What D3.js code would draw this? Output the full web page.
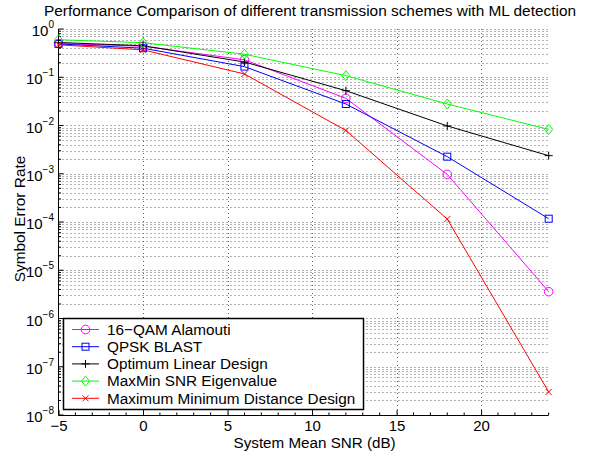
<!DOCTYPE html>
<html><head><meta charset="utf-8">
<script src="https://cdn.jsdelivr.net/npm/d3@7"></script>
<style>body{margin:0;background:#fff}svg{display:block}text{font-family:"Liberation Sans",Arial,Helvetica,sans-serif;fill:#000}</style>
</head><body><svg id="c" width="591" height="455"></svg>
<script>
const snr = [-5, 0, 6, 12, 18, 24];
const seriesNames = ["16−QAM Alamouti", "QPSK BLAST", "Optimum Linear Design", "MaxMin SNR Eigenvalue", "Maximum Minimum Distance Design"];
const alamouti = [0.50, 0.44, 0.23, 0.0366, 0.00097, 3.6e-6];
const blast = [0.49, 0.40, 0.166, 0.0279, 0.00226, 1.17e-4];
const optLinear = [0.525, 0.45, 0.207, 0.0527, 0.0098, 0.00237];
const maxMinSnr = [0.60, 0.52, 0.30, 0.108, 0.0279, 0.0083];
const maxMinDist = [0.47, 0.37, 0.117, 0.0079, 1.15e-4, 3.0e-8];
const colors = ["#ff00ff", "#0000ff", "#000000", "#00ff00", "#ff0000"];
const markers = ["circle", "square", "plus", "diamond", "cross"];
const xTicks = [-5, 0, 5, 10, 15, 20];
const yExponents = [0, -1, -2, -3, -4, -5, -6, -7, -8];
const titleText = "Performance Comparison of different transmission schemes with ML detection";
const xLabel = "System Mean SNR (dB)";
const yLabel = "Symbol Error Rate";

const allSeries = [alamouti, blast, optLinear, maxMinSnr, maxMinDist];
const svg = d3.select("#c");
const L = 58.5, R = 548.7, T = 29, B = 415;
const x = d3.scaleLinear().domain([-5, 24]).range([L, R]);
const y = d3.scaleLog().domain([1e-8, 1]).range([B, T]);

// grid
const g = svg.append("g");
const minorVals = [];
for (let e = -8; e < 0; e++) for (let m = 2; m <= 9; m++) minorVals.push(m * Math.pow(10, e));
g.selectAll(".hmin").data(minorVals).enter().append("line")
  .attr("x1", L).attr("x2", R).attr("y1", d => Math.round(y(d)) + 0.5).attr("y2", d => Math.round(y(d)) + 0.5)
  .attr("stroke", "#666").attr("stroke-width", 1).attr("stroke-dasharray", "1,3");
g.selectAll(".hmaj").data(yExponents.slice(0, -1)).enter().append("line")
  .attr("x1", L).attr("x2", R).attr("y1", d => Math.round(y(Math.pow(10, d))) + 0.5).attr("y2", d => Math.round(y(Math.pow(10, d))) + 0.5)
  .attr("stroke", "#666").attr("stroke-width", 1).attr("stroke-dasharray", "1,3");
g.selectAll(".vmaj").data(xTicks.slice(1)).enter().append("line")
  .attr("x1", d => Math.round(x(d)) + 0.5).attr("x2", d => Math.round(x(d)) + 0.5).attr("y1", T).attr("y2", B)
  .attr("stroke", "#666").attr("stroke-width", 1).attr("stroke-dasharray", "1,3");

// x axis
const xAxis = d3.axisBottom(x).tickValues(xTicks).tickSize(-5).tickPadding(0).tickFormat(d => d < 0 ? "−" + (-d) : d);
const gx = svg.append("g").attr("transform", `translate(0,${B})`).call(xAxis);
gx.select(".domain").attr("d", `M${L},0.5H${R}`).attr("stroke", "#000");
gx.selectAll(".tick text").attr("font-size", 15).attr("y", 15.5).attr("dy", null)
  .style("font-family", "Liberation Sans, Arial, sans-serif");
const xMinor = d3.range(-4, 25).filter(v => v % 5 !== 0);
svg.append("g").selectAll("line").data(xMinor).enter().append("line")
  .attr("x1", d => x(d)).attr("x2", d => x(d)).attr("y1", B).attr("y2", B - 2.5).attr("stroke", "#000");

// y axis
const gy = svg.append("g");
gy.append("line").attr("x1", L).attr("x2", L).attr("y1", T).attr("y2", B + 0.5).attr("stroke", "#000");
gy.selectAll(".maj").data(yExponents).enter().append("line")
  .attr("x1", L).attr("x2", L + 5).attr("y1", d => y(Math.pow(10, d))).attr("y2", d => y(Math.pow(10, d))).attr("stroke", "#000");
gy.selectAll(".min").data(minorVals).enter().append("line")
  .attr("x1", L).attr("x2", L + 2.5).attr("y1", d => y(d)).attr("y2", d => y(d)).attr("stroke", "#000");
const yl = gy.selectAll(".lab").data(yExponents).enter().append("text")
  .attr("x", L - 4.5).attr("y", d => y(Math.pow(10, d)) + 7).attr("text-anchor", "end").attr("font-size", 15);
yl.append("tspan").text("10");
yl.append("tspan").attr("dy", -8).attr("font-size", 10).text(d => d < 0 ? "−" + (-d) : d);

// lines
const line = d3.line().x((d, i) => x(snr[i])).y(d => y(d));
allSeries.forEach((s, k) => {
  svg.append("path").datum(s).attr("d", line).attr("fill", "none").attr("stroke", colors[k]).attr("stroke-width", 1);
});

function marker(sel, type, color) {
  if (type === "circle") sel.append("circle").attr("r", 4.3).attr("fill", "none").attr("stroke", color);
  else if (type === "square") sel.append("rect").attr("x", -3.5).attr("y", -3.5).attr("width", 7).attr("height", 7).attr("fill", "none").attr("stroke", color);
  else if (type === "plus") sel.append("path").attr("d", "M-4,0H4M0,-4V4").attr("stroke", color).attr("fill", "none");
  else if (type === "diamond") sel.append("path").attr("d", "M0,-5L4,0L0,5L-4,0Z").attr("stroke", color).attr("fill", "none");
  else if (type === "cross") sel.append("path").attr("d", "M-3,-3L3,3M-3,3L3,-3").attr("stroke", color).attr("fill", "none");
}
allSeries.forEach((s, k) => {
  const mg = svg.append("g").selectAll("g").data(s).enter().append("g")
    .attr("transform", (d, i) => `translate(${x(snr[i])},${y(d)})`);
  marker(mg, markers[k], colors[k]);
});

// legend
const lg = svg.append("g");
lg.append("rect").attr("x", 63.5).attr("y", 318.5).attr("width", 300).attr("height", 91).attr("fill", "#fff").attr("stroke", "#000").attr("stroke-width", 1.5);
seriesNames.forEach((n, k) => {
  const cy = 329.5 + k * 17.2;
  lg.append("line").attr("x1", 72).attr("x2", 99).attr("y1", cy).attr("y2", cy).attr("stroke", colors[k]);
  marker(lg.append("g").attr("transform", `translate(85.5,${cy})`), markers[k], colors[k]);
  lg.append("text").attr("x", 107).attr("y", cy + 5.2).attr("font-size", 15.3).text(n);
});

// titles
svg.append("text").attr("x", 310).attr("y", 16).attr("text-anchor", "middle").attr("font-size", 15.4).text(titleText);
svg.append("text").attr("x", (L + R) / 2 + 11).attr("y", 447.5).attr("text-anchor", "middle").attr("font-size", 15.2).text(xLabel);
svg.append("text").attr("transform", `translate(25,${(T + B) / 2 - 3}) rotate(-90)`).attr("text-anchor", "middle").attr("font-size", 15.4).text(yLabel);
</script></body></html>
